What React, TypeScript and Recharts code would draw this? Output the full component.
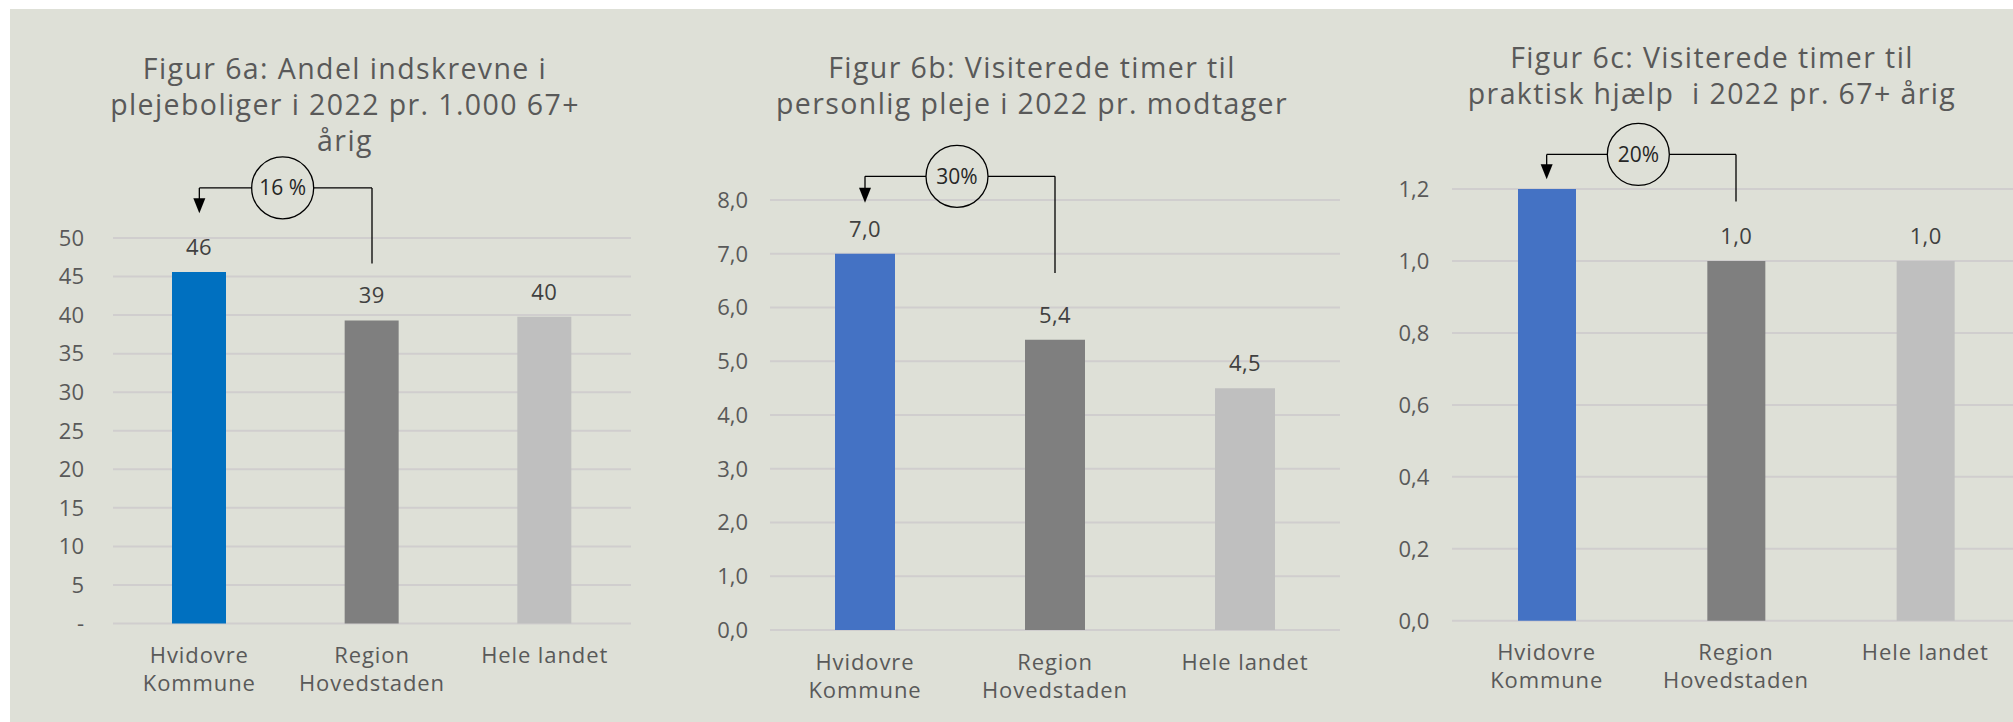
import React from "react";
import {
  BarChart,
  Bar,
  XAxis,
  YAxis,
  CartesianGrid,
  Cell,
  LabelList,
  ReferenceLine,
} from "recharts";

// categories (line break = where the axis label wraps)
const categories = ["Hvidovre\nKommune", "Region\nHovedstaden", "Hele landet"];

// Figur 6a: indskrevne i plejeboliger pr. 1.000 67+ årige
const plejeboligerPr1000 = [45.6, 39.3, 39.8];
// Figur 6b: visiterede timer personlig pleje pr. modtager
const personligPlejeTimer = [7.0, 5.4, 4.5];
// Figur 6c: visiterede timer praktisk hjælp pr. 67+ årig
const praktiskHjaelpTimer = [1.2, 1.0, 1.0];

const ticks6a = [0, 5, 10, 15, 20, 25, 30, 35, 40, 45, 50];
const ticks6b = [0, 1, 2, 3, 4, 5, 6, 7, 8];
const ticks6c = [0, 0.2, 0.4, 0.6, 0.8, 1.0, 1.2];

const FONT = "'Open Sans', sans-serif";
const BG = "#DEE0D7";
const TEXT = "#595959";
const GRID = "#D0CECE";

const comma = (v: number) => v.toFixed(1).replace(".", ",");

const panels = [
  {
    id: "6a",
    title: ["Figur 6a: Andel indskrevne i", "plejeboliger i 2022 pr. 1.000 67+", "årig"],
    titleX: 345,
    titleY: 79,
    values: plejeboligerPr1000,
    ticks: ticks6a,
    firstColor: "#0070C0",
    plot: { left: 113, top: 238.3, right: 631, bottom: 623.8 },
    gap: 29,
    barSize: 54,
    fmtTick: (v: number) => (v === 0 ? "-" : String(v)),
    fmtLabel: (v: number) => v.toFixed(0),
    hideFirstLabel: false,
    change: "16 %",
    level: 56.5,
    tip: 53.2,
    end: 46.7,
  },
  {
    id: "6b",
    title: ["Figur 6b: Visiterede timer til", "personlig pleje i 2022 pr. modtager"],
    titleX: 1032,
    titleY: 78,
    values: personligPlejeTimer,
    ticks: ticks6b,
    firstColor: "#4472C4",
    plot: { left: 770, top: 199.8, right: 1340, bottom: 629.8 },
    gap: 22,
    barSize: 60,
    fmtTick: comma,
    fmtLabel: comma,
    hideFirstLabel: false,
    change: "30%",
    level: 8.44,
    tip: 7.95,
    end: 6.64,
  },
  {
    id: "6c",
    title: ["Figur 6c: Visiterede timer til", "praktisk hjælp  i 2022 pr. 67+ årig"],
    titleX: 1712,
    titleY: 68,
    values: praktiskHjaelpTimer,
    ticks: ticks6c,
    firstColor: "#4472C4",
    plot: { left: 1451.6, top: 189.2, right: 2019.6, bottom: 621 },
    gap: 22.6,
    barSize: 58,
    fmtTick: comma,
    fmtLabel: comma,
    hideFirstLabel: true,
    change: "20%",
    level: 1.296,
    tip: 1.227,
    end: 1.165,
  },
];

const CategoryTick = (props: any) => {
  const { x, y, payload } = props;
  const lines = String(payload.value).split("\n");
  return (
    <text
      x={x}
      y={y}
      textAnchor="middle"
      fill={TEXT}
      fontSize={22}
      fontFamily={FONT}
      letterSpacing={0.9}
    >
      {lines.map((l, i) => (
        <tspan key={i} x={x} y={y + 39.5 + i * 28}>
          {l}
        </tspan>
      ))}
    </text>
  );
};

const Panel = ({ p }: any) => {
  const data = categories.map((name, i) => ({ name, value: p.values[i] }));
  const colors = [p.firstColor, "#7F7F7F", "#BFBFBF"];
  const YW = 100;
  const MT = 130;
  const MR = 5;
  const XH = 90;
  const plotW = p.plot.right - p.plot.left;
  const plotH = p.plot.bottom - p.plot.top;

  const renderLabel = (props: any) => {
    const vb = props.viewBox || props;
    const x = vb.x ?? props.x;
    const y = vb.y ?? props.y;
    const w = vb.width ?? props.width;
    if (p.hideFirstLabel && props.index === 0) return null;
    return (
      <text
        x={x + w / 2}
        y={y - 17}
        textAnchor="middle"
        fill="#404040"
        fontSize={22}
        fontFamily={FONT}
        letterSpacing={0.4}
      >
        {p.fmtLabel(Number(props.value))}
      </text>
    );
  };

  const topShape = (s: any) => {
    const { x1, x2, y1 } = s;
    const r = 31;
    const cx = (x1 + x2) / 2 - 3;
    return (
      <g>
        <line x1={x1} y1={y1} x2={cx - r} y2={y1} stroke="#000" strokeWidth={1.3} />
        <line x1={cx + r} y1={y1} x2={x2} y2={y1} stroke="#000" strokeWidth={1.3} />
        <circle cx={cx} cy={y1} r={r} fill="none" stroke="#000" strokeWidth={1.3} />
        <text
          x={cx}
          y={y1}
          dy="0.36em"
          textAnchor="middle"
          fill="#262626"
          fontSize={21}
          fontFamily={FONT}
        >
          {p.change}
        </text>
      </g>
    );
  };

  const arrowShape = (s: any) => {
    const { x1, y1, y2 } = s;
    return (
      <g>
        <line x1={x1} y1={y1} x2={x1} y2={y2 - 12} stroke="#000" strokeWidth={1.3} />
        <polygon points={`${x1 - 6},${y2 - 15} ${x1 + 6},${y2 - 15} ${x1},${y2}`} fill="#000" />
      </g>
    );
  };

  return (
    <div style={{ position: "absolute", left: p.plot.left - YW, top: p.plot.top - MT }}>
      <BarChart
        width={YW + plotW + MR}
        height={MT + plotH + XH}
        data={data}
        margin={{ top: MT, right: MR, bottom: 0, left: 0 }}
      >
        <CartesianGrid vertical={false} stroke={GRID} strokeWidth={2} />
        <XAxis
          dataKey="name"
          axisLine={false}
          tickLine={false}
          tickSize={0}
          tickMargin={0}
          height={XH}
          interval={0}
          tick={<CategoryTick />}
        />
        <YAxis
          domain={[p.ticks[0], p.ticks[p.ticks.length - 1]]}
          ticks={p.ticks}
          interval={0}
          width={YW}
          axisLine={false}
          tickLine={false}
          tickSize={0}
          tickMargin={p.gap}
          tickFormatter={p.fmtTick}
          tick={{ fill: TEXT, fontSize: 22, fontFamily: FONT }}
        />
        <Bar dataKey="value" barSize={p.barSize} isAnimationActive={false}>
          {data.map((d, i) => (
            <Cell key={d.name} fill={colors[i]} />
          ))}
          <LabelList dataKey="value" content={renderLabel} />
        </Bar>
        <ReferenceLine
          segment={[
            { x: categories[0], y: p.level },
            { x: categories[1], y: p.level },
          ]}
          ifOverflow="visible"
          shape={topShape}
        />
        <ReferenceLine
          segment={[
            { x: categories[0], y: p.level },
            { x: categories[0], y: p.tip },
          ]}
          ifOverflow="visible"
          shape={arrowShape}
        />
        <ReferenceLine
          segment={[
            { x: categories[1], y: p.level },
            { x: categories[1], y: p.end },
          ]}
          ifOverflow="visible"
          stroke="#000"
          strokeWidth={1.3}
        />
      </BarChart>
    </div>
  );
}

export default function App() {
  return (
    <div
      style={{
        position: "absolute",
        left: 0,
        top: 0,
        width: 2013,
        height: 722,
        overflow: "hidden",
        background: "#fff",
        fontFamily: FONT,
      }}
    >
      <div style={{ position: "absolute", left: 10, top: 9, right: 0, bottom: 0, background: BG }} />
      <svg
        width={2013}
        height={722}
        style={{ position: "absolute", left: 0, top: 0, pointerEvents: "none" }}
      >
        {panels.map((p) => (
          <text
            key={p.id}
            textAnchor="middle"
            fill={TEXT}
            fontSize={28.5}
            fontFamily={FONT}
            letterSpacing={1.4}
            style={{ whiteSpace: "pre" }}
          >
            {p.title.map((line, i) => (
              <tspan key={i} x={p.titleX} y={p.titleY + i * 36}>
                {line}
              </tspan>
            ))}
          </text>
        ))}
      </svg>
      {panels.map((p) => (
        <Panel key={p.id} p={p} />
      ))}
    </div>
  );
}
